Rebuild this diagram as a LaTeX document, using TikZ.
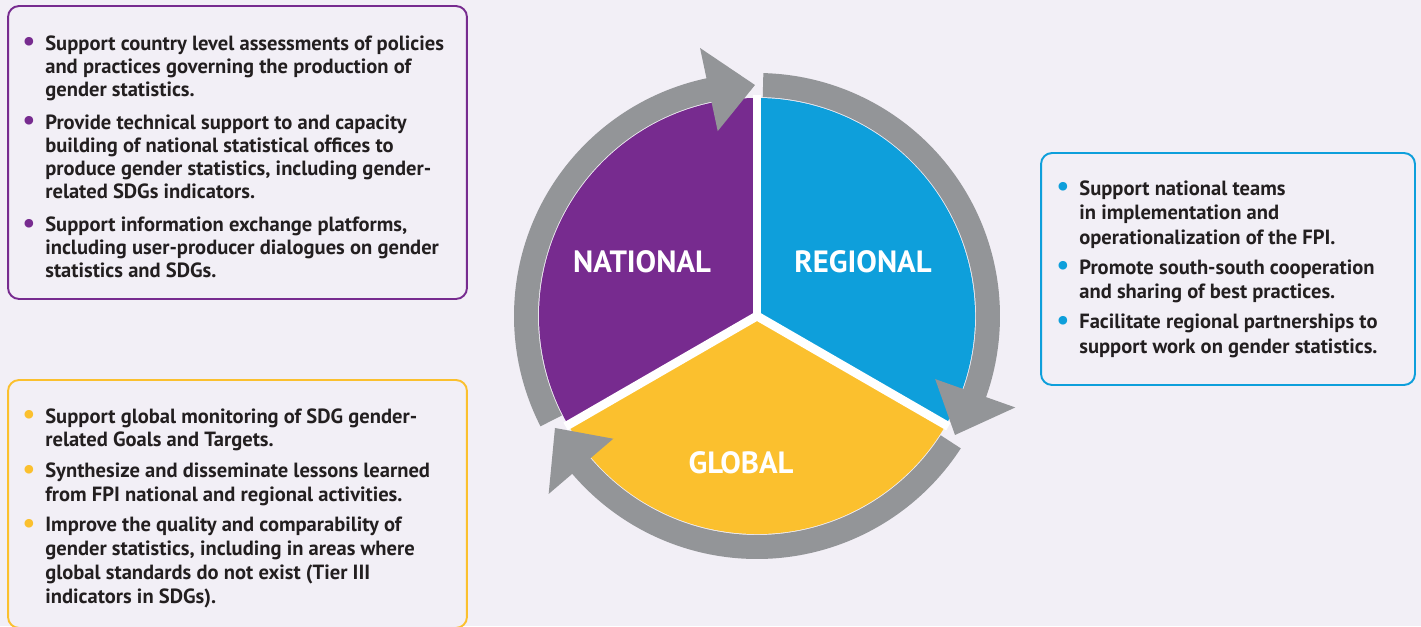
\documentclass[tikz,border=0pt]{standalone}
\usepackage{fontspec}
\setmainfont{PT Sans}
\usetikzlibrary{positioning}

\definecolor{bgcol}{HTML}{F2EFF6}
\definecolor{textcol}{HTML}{231F20}
\definecolor{natpurple}{HTML}{772B8F}
\definecolor{regblue}{HTML}{0E9FDB}
\definecolor{globyellow}{HTML}{FBC02E}
\definecolor{ringgray}{HTML}{939598}

\newcommand{\dotitem}[1]{\llap{\textcolor{#1}{\raisebox{-0.5pt}{\fontsize{16}{16}\selectfont\textbullet}}\hspace{0.2cm}}}

\begin{document}
\begin{tikzpicture}[x=0.02cm, y=0.02cm,
        % styles
        panel/.style = {
                rectangle, rounded corners=0.22cm, line width=1.1pt,
                fill=bgcol, inner sep=0pt
            },
        itemlist/.style = {
                align=left, anchor=north west, inner sep=0pt,
                text=textcol, font=\bfseries\fontsize{11.7}{#1}\selectfont
            },
        levelname/.style = {
                text=white, font=\bfseries\fontsize{17.5}{20}\selectfont
            }]

    \path[use as bounding box, fill=bgcol] (0,0) rectangle (1421,626);

    \node (national_box) [panel, draw=natpurple, minimum width=9.18cm, minimum height=5.86cm] at (237.5,473.5) {};
    \node (regional_box) [panel, draw=regblue, minimum width=7.48cm, minimum height=4.64cm] at (1228,357) {};
    \node (global_box) [panel, draw=globyellow, minimum width=9.18cm, minimum height=4.96cm] at (237.5,122) {};

    \node (national_list) [itemlist=13.1pt] at (45,591) {
        \dotitem{natpurple}Support country level assessments of policies\\
        and practices governing the production of\\
        gender statistics.\\[5.7pt]
        \dotitem{natpurple}Provide technical support to and capacity\\
        building of national statistical offices to\\
        produce gender statistics, including gender-\\
        related SDGs indicators.\\[5.7pt]
        \dotitem{natpurple}Support information exchange platforms,\\
        including user-producer dialogues on gender\\
        statistics and SDGs.};
    \node (regional_list) [itemlist=14pt] at (1079,446) {
        \dotitem{regblue}Support national teams\\
        in implementation and\\
        operationalization of the FPI.\\[3pt]
        \dotitem{regblue}Promote south-south cooperation\\
        and sharing of best practices.\\[3pt]
        \dotitem{regblue}Facilitate regional partnerships to\\
        support work on gender statistics.};
    \node (global_list) [itemlist=13.5pt] at (45,218) {
        \dotitem{globyellow}Support global monitoring of SDG gender-\\
        related Goals and Targets.\\[4pt]
        \dotitem{globyellow}Synthesize and disseminate lessons learned\\
        from FPI national and regional activities.\\[4pt]
        \dotitem{globyellow}Improve the quality and comparability of\\
        gender statistics, including in areas where\\
        global standards do not exist (Tier III\\
        indicators in SDGs).};

    % pie
    \coordinate (hub) at (757,310);
    \fill[natpurple] (hub) -- ++(90:218) arc[start angle=90, end angle=210, radius=218] -- cycle;
    \fill[regblue] (hub) -- ++(-30:218) arc[start angle=-30, end angle=90, radius=218] -- cycle;
    \fill[globyellow] (hub) -- ++(210:218) arc[start angle=210, end angle=330, radius=218] -- cycle;
    \foreach \a in {90,210,330}
        \draw[white, line width=5pt] (hub) -- ++(\a:221);

    % % arrows
    \begin{scope}[shift={(hub)}]
        \foreach \s/\t [evaluate=\t as \b using \t+11.5] in {207/90.5, 88.5/-31, -33/-151}
            \fill[ringgray] (\s:243) arc[start angle=\s, end angle=\b, radius=243]
                -- (\b:274) -- (\t:231) -- (\b:189) -- (\b:219)
                arc[start angle=\b, end angle=\s, radius=219] -- cycle;
    \end{scope}

    \node (national_label) [levelname] at (642,364) {NATIONAL};
    \node (regional_label) [levelname] at (863,364) {REGIONAL};
    \node (global_label) [levelname] at (741,163) {GLOBAL};

\end{tikzpicture}
\end{document}
